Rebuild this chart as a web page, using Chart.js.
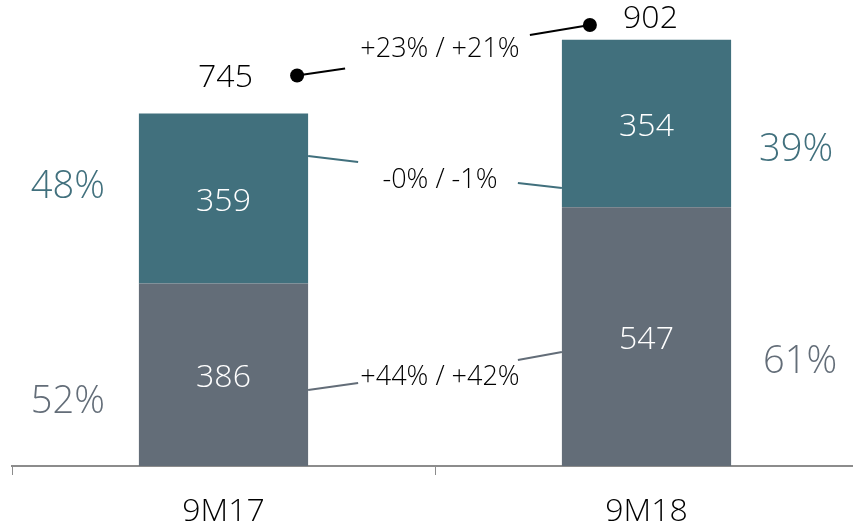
<!DOCTYPE html>
<html>
<head>
<meta charset="utf-8">
<script src="https://cdn.jsdelivr.net/npm/chart.js@4/dist/chart.umd.min.js"></script>
<style>
    html, body { margin: 0; padding: 0; background: #ffffff; overflow: hidden; }
    #wrap { width: 858px; height: 531px; }
</style>
</head>
<body>
<div id="wrap"><canvas id="salesChart" width="858" height="531"></canvas></div>
<script>
/*
    Values for the two periods. Bottom segment and top segment of each stacked bar.
*/
const periods = ['9M17', '9M18'];
const bottomValues = [386, 547];
const topValues = [359, 354];
const totalLabels = ['745', '902'];
const growthLabels = ['+23% / +21%', '-0% / -1%', '+44% / +42%'];
const bottomShares = ['52%', '61%'];
const topShares = ['48%', '39%'];

const TEAL = '#41707d';
const GREY = '#636d78';
const FONT = '"Open Sans", "DejaVu Sans", sans-serif';

/*
    Draws the value labels, totals, growth notes and the share percentages on top of the bars.
*/
const annotationPlugin = {
    id: 'annotations',
    afterDatasetsDraw(chart) {
        const ctx = chart.ctx;
        const bottomBars = chart.getDatasetMeta(0).data;
        const topBars = chart.getDatasetMeta(1).data;
        ctx.save();
        ctx.textAlign = 'center';
        ctx.textBaseline = 'middle';

        // values inside the segments
        ctx.fillStyle = '#ffffff';
        ctx.font = '300 32px ' + FONT;
        bottomBars.forEach((bar, i) => {
            ctx.fillText(String(bottomValues[i]), bar.x, (bar.y + bar.base) / 2 + 3);
        });
        topBars.forEach((bar, i) => {
            ctx.fillText(String(topValues[i]), bar.x, (bar.y + bar.base) / 2 + 3);
        });

        const left0 = topBars[0].x - topBars[0].width / 2;
        const right0 = topBars[0].x + topBars[0].width / 2;
        const left1 = topBars[1].x - topBars[1].width / 2;
        const right1 = topBars[1].x + topBars[1].width / 2;
        const mid = (topBars[0].x + topBars[1].x) / 2 + 5;

        // totals above the bars
        ctx.fillStyle = '#000000';
        ctx.font = '300 32px ' + FONT;
        const totalY0 = topBars[0].y - 36;
        const totalY1 = 19;
        ctx.fillText(totalLabels[0], topBars[0].x + 2, totalY0);
        ctx.fillText(totalLabels[1], topBars[1].x + 4, totalY1);

        // growth notes between the bars
        ctx.font = '300 27px ' + FONT;
        const growthY = [49, 180, 377];
        growthLabels.forEach((txt, i) => ctx.fillText(txt, mid, growthY[i]));

        function line(x1, y1, x2, y2, color) {
            ctx.beginPath();
            ctx.moveTo(x1, y1);
            ctx.lineTo(x2, y2);
            ctx.strokeStyle = color;
            ctx.lineWidth = 2;
            ctx.stroke();
        }
        function dot(x, y) {
            ctx.beginPath();
            ctx.arc(x, y, 7, 0, Math.PI * 2);
            ctx.fillStyle = '#000000';
            ctx.fill();
        }

        // total growth connectors
        line(right0 - 11, totalY0 - 2, right0 + 37, totalY0 - 9, '#000000');
        dot(right0 - 11, totalY0 - 2);
        line(left1 - 32, 35, left1 + 28, 25, '#000000');
        dot(left1 + 28, 25);

        // top segment connectors
        line(right0, 156, right0 + 50, 162, TEAL);
        line(left1 - 44, 183, left1, 188, TEAL);

        // bottom segment connectors
        line(right0, 390, right0 + 50, 383, GREY);
        line(left1 - 44, 360, left1, 352, GREY);

        // shares on the sides
        ctx.font = '300 38px ' + FONT;
        ctx.fillStyle = TEAL;
        ctx.fillText(topShares[0], left0 - 71, 187);
        ctx.fillText(topShares[1], right1 + 65, 150);
        ctx.fillStyle = GREY;
        ctx.fillText(bottomShares[0], left0 - 71, 402);
        ctx.fillText(bottomShares[1], right1 + 69, 362);

        ctx.restore();
    }
};

function displayChart() {
    const canvas = document.getElementById('salesChart');
    const ctx = canvas.getContext('2d');
    new Chart(ctx, {
        type: 'bar',
        data: {
            labels: periods,
            datasets: [
                {
                    label: 'Bottom',
                    data: bottomValues,
                    backgroundColor: GREY,
                    barPercentage: 0.4,
                    categoryPercentage: 1.0
                },
                {
                    label: 'Top',
                    data: topValues,
                    backgroundColor: TEAL,
                    barPercentage: 0.4,
                    categoryPercentage: 1.0
                }
            ]
        },
        options: {
            responsive: false,
            animation: false,
            layout: {
                padding: { left: 12, right: 0, top: 0, bottom: 0 }
            },
            scales: {
                x: {
                    stacked: true,
                    offset: true,
                    afterFit: (scale) => { scale.height = 65; },
                    border: { display: true, color: '#8c8c8c', width: 2 },
                    grid: {
                        display: true,
                        offset: true,
                        drawOnChartArea: false,
                        drawTicks: true,
                        tickLength: 9,
                        color: '#8c8c8c',
                        lineWidth: 1
                    },
                    ticks: {
                        color: '#000000',
                        padding: 21,
                        font: { family: FONT, size: 32, weight: '300', lineHeight: 1.0 }
                    }
                },
                y: {
                    stacked: true,
                    display: false,
                    min: 0,
                    max: 985
                }
            },
            plugins: {
                legend: { display: false },
                tooltip: { enabled: false },
                title: { display: false }
            }
        },
        plugins: [annotationPlugin]
    });
}

displayChart();
</script>
</body>
</html>
